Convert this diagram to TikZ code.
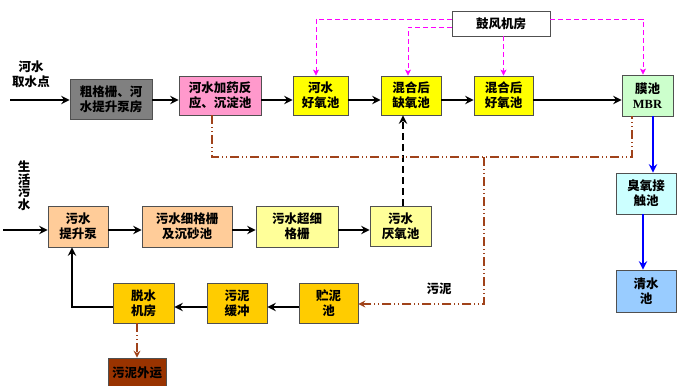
\documentclass[tikz,border=0pt]{standalone}
\usepackage{fontspec}
\setmainfont{Liberation Serif}
\newfontfamily\cjk{Noto Sans CJK SC}
\usetikzlibrary{arrows.meta}
\definecolor{cgray}{HTML}{808080}
\definecolor{cpink}{HTML}{FF99CC}
\definecolor{cyel}{HTML}{FFFF00}
\definecolor{cmbr}{HTML}{CCFFCC}
\definecolor{coz}{HTML}{CCFFFF}
\definecolor{cclear}{HTML}{99CCFF}
\definecolor{cpeach}{HTML}{FFCC99}
\definecolor{clyel}{HTML}{FFFF99}
\definecolor{cgold}{HTML}{FFCC00}
\definecolor{cbrown}{HTML}{993300}
\definecolor{cline}{HTML}{A0421A}
\definecolor{cmag}{HTML}{FF00FF}
\definecolor{cborder}{HTML}{505050}
\tikzset{
  box/.style={draw=cborder, line width=0.8pt, inner sep=0pt, align=center,
    font=\cjk\bfseries\fontsize{12.5}{15}\selectfont},
  flow/.style={line width=1.5pt, -{Stealth[length=8.5pt,width=8.5pt,inset=3pt]}},
  air/.style={cmag, line width=0.8pt, dash pattern=on 5pt off 3pt,
    -{Stealth[length=6pt,width=6pt,inset=1.5pt]}},
  sludge/.style={cline, line width=1.1pt, dash pattern=on 9pt off 3pt on 1pt off 3pt on 1pt off 3pt},
  sludgearrow/.style={sludge, -{Stealth[length=7pt,width=7pt,inset=2.5pt]}},
  mixline/.style={line width=1.6pt, dash pattern=on 7pt off 4pt, -{Stealth[length=8.5pt,width=8.5pt,inset=3pt]}},
  blueflow/.style={blue, line width=1.5pt, -{Stealth[length=8.5pt,width=8.5pt,inset=3pt]}},
  lbl/.style={inner sep=0pt, align=center, font=\cjk\bfseries\fontsize{12.5}{15}\selectfont}
}
\begin{document}
\begin{tikzpicture}[x=1pt,y=-1pt]
\useasboundingbox (0,0) rectangle (700,385);
% top row
\node[box, fill=cgray, minimum width=82pt, minimum height=40pt] (n1) at (111,99) {粗格栅、河\\水提升泵房};
\node[box, fill=cpink, minimum width=82pt, minimum height=39pt] (n2) at (220,95.5) {河水加药反\\应、沉淀池};
\node[box, fill=cyel, minimum width=55pt, minimum height=39pt] (n3) at (320.5,95.5) {河水\\好氧池};
\node[box, fill=cyel, minimum width=60pt, minimum height=39pt] (n4) at (411,95.5) {混合后\\缺氧池};
\node[box, fill=cyel, minimum width=59pt, minimum height=39pt] (n5) at (503.5,95.5) {混合后\\好氧池};
\node[box, fill=cmbr, minimum width=51pt, minimum height=41pt] (n6) at (647.5,95.5) {膜池\\{\rmfamily\bfseries MBR}};
\node[box, fill=white, minimum width=98pt, minimum height=25pt] (blow) at (501,23.5) {鼓风机房};
\node[box, fill=coz, minimum width=60pt, minimum height=41pt] (n7) at (646,193.5) {臭氧接\\触池};
\node[box, fill=cclear, minimum width=60pt, minimum height=42pt] (n8) at (646,291) {清水\\池};
% second row
\node[box, fill=cpeach, minimum width=60pt, minimum height=41pt] (m1) at (78,226.5) {污水\\提升泵};
\node[box, fill=cpeach, minimum width=90pt, minimum height=41pt] (m2) at (187,226.5) {污水细格栅\\及沉砂池};
\node[box, fill=clyel, minimum width=82pt, minimum height=41pt] (m3) at (297,226.5) {污水超细\\格栅};
\node[box, fill=clyel, minimum width=61pt, minimum height=40pt] (m4) at (400.5,226) {污水\\厌氧池};
% sludge row
\node[box, fill=cgold, minimum width=61pt, minimum height=40pt] (s1) at (143.5,303) {脱水\\机房};
\node[box, fill=cgold, minimum width=60pt, minimum height=40pt] (s2) at (237,303) {污泥\\缓冲};
\node[box, fill=cgold, minimum width=59pt, minimum height=40pt] (s3) at (328.5,303) {贮泥\\池};
\node[box, fill=cbrown, minimum width=58pt, minimum height=30pt] (s4) at (137,373) {污泥外运};
% labels
\node[lbl] (tin) at (31,74) {河水\\取水点};
\node[lbl, font=\cjk\bfseries\fontsize{12.5}{12.5}\selectfont] (tsew) at (24,186) {生\\活\\污\\水};
\node[lbl] (tsl) at (439,289) {污泥};
% coordinates
\coordinate (row1) at (0,100);
\coordinate (row2) at (0,230);
\coordinate (row3) at (0,307);
\coordinate (rin) at (10,100);
\coordinate (sin) at (3,230);
% top flow
\draw[flow] (rin) -- (n1.west |- row1);
\draw[flow] (n1.east |- row1) -- (n2.west |- row1);
\draw[flow] (n2.east |- row1) -- (n3.west |- row1);
\draw[flow] (n3.east |- row1) -- (n4.west |- row1);
\draw[flow] (n4.east |- row1) -- (n5.west |- row1);
\draw[flow] (n5.east |- row1) -- (n6.west |- row1);
% second row flow
\draw[flow] (sin) -- (m1.west |- row2);
\draw[flow] (m1.east |- row2) -- (m2.west |- row2);
\draw[flow] (m2.east |- row2) -- (m3.west |- row2);
\draw[flow] (m3.east |- row2) -- (m4.west |- row2);
% sludge flow
\draw[flow] (s3.west |- row3) -- (s2.east |- row3);
\draw[flow] (s2.west |- row3) -- (s1.east |- row3);
\coordinate (ret) at (72,307);
\draw[flow] (s1.west |- row3) -- (ret) -- (ret |- m1.south);
% air lines
\coordinate (a1) at (316,19);
\coordinate (a2) at (408,27);
\coordinate (a3) at (643,19);
\draw[air] (blow.west |- a1) -- (a1) -- (a1 |- n3.north);
\draw[air] (blow.west |- a2) -- (a2) -- (a2 |- n4.north);
\draw[air] (blow.south -| n5.north) -- (n5.north);
\draw[air] (blow.east |- a3) -- (a3) -- (a3 |- n6.north);
% mixed liquor dashed
\coordinate (mx) at (403,0);
\draw[mixline] (mx |- m4.north) -- (mx |- n4.south);
% blue
\draw[blueflow] (n6.south -| 653,0) -- (n7.north -| 653,0);
\draw[blueflow] (n7.south -| 643,0) -- (n8.north -| 643,0);
% sludge return
\coordinate (b1) at (212,157);
\coordinate (b2) at (632,157);
\coordinate (b3) at (484,157);
\coordinate (b4) at (484,304);
\draw[sludge] (b1 |- n2.south) -- (b1) -- (b2) -- (b2 |- n6.south);
\draw[sludgearrow] (b3) -- (b4) -- (s3.east |- b4);
\coordinate (b5) at (137,0);
\draw[sludgearrow] (b5 |- s1.south) -- (b5 |- s4.north);
\end{tikzpicture}
\end{document}
